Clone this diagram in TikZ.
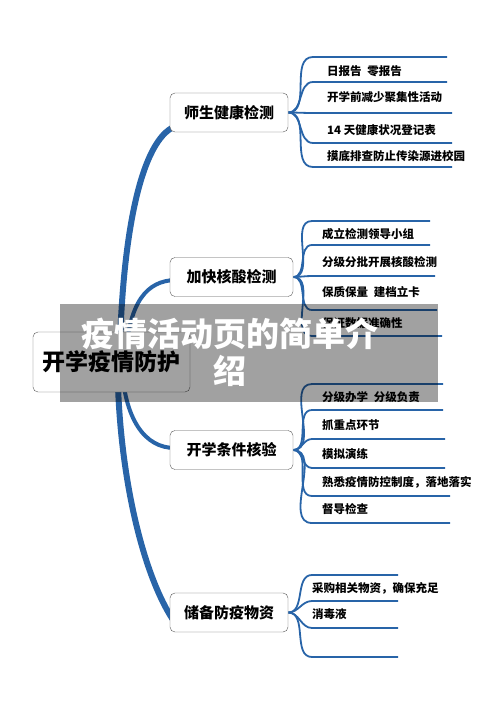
\documentclass[tikz,border=0pt]{standalone}
\usepackage{fontspec}
\setmainfont{Noto Sans CJK SC}
\usetikzlibrary{backgrounds}
\definecolor{mapblue}{RGB}{40,100,168}
\tikzset{
	topic/.style={draw=black!65, fill=white, rounded corners=5pt, inner sep=0pt,
		minimum width=118pt, minimum height=39pt, font=\bfseries\fontsize{15}{15}\selectfont},
	roottopic/.style={topic, minimum width=157pt, minimum height=60pt,
		font=\bfseries\fontsize{23}{23}\selectfont},
	leaf/.style={anchor=west, inner sep=0pt, font=\bfseries\fontsize{11.5}{11.5}\selectfont},
	trunk/.style={draw=mapblue, line width=6pt},
	twig/.style={draw=mapblue, line width=1.8pt},
	band/.style={fill=black, fill opacity=0.37, draw=none, minimum width=378pt, minimum height=98pt},
	bandtext/.style={text=white, align=center, font=\bfseries\fontsize{33}{37}\selectfont},
}
\begin{document}
\begin{tikzpicture}[x=1pt,y=-1pt]
			\useasboundingbox (0,0) rectangle (500,707);
			\node[roottopic] (root) at (111.5,362){开学疫情防护};
			\node[topic] (b1) at (229,112.5){师生健康检测};
			\node[topic, minimum width=123pt] (b2) at (231.5,277){加快核酸检测};
			\node[topic, minimum width=123pt] (b3) at (231.5,450){开学条件核验};
			\node[topic] (b4) at (229,612.5){储备防疫物资};
			\begin{scope}[on background layer]
			\draw[trunk] ([xshift=8pt]root.center) .. controls (122,230) and (142,140) .. ([xshift=5pt,yshift=-14pt]b1.west);
			\draw[trunk, line width=4pt] ([xshift=14pt]root.center) .. controls (128,300) and (148,281) .. ([xshift=5pt,yshift=-3pt]b2.west);
			\draw[trunk, line width=4pt] ([xshift=10pt]root.center) .. controls (124,420) and (145,448) .. ([xshift=5pt,yshift=2pt]b3.west);
			\draw[trunk] ([xshift=6pt]root.center) .. controls (118,470) and (142,575) .. ([xshift=5pt,yshift=-10pt]b4.west);
			\foreach\y/\e [count=\x] in {57/447,82/447,113/452,143/452,167/452}{
				\coordinate (p1\x) at (313,\y);
				\coordinate (q1\x) at (\e,\y);
				\draw[twig] (b1.east) to[out=0,in=180] (p1\x) -- (q1\x);
			}
			\foreach\y/\e [count=\x] in {221/430,245/430,276/435,310/437,336/442}{
				\coordinate (p2\x) at (312,\y);
				\coordinate (q2\x) at (\e,\y);
				\draw[twig] (b2.east) to[out=0,in=180] (p2\x) -- (q2\x);
			}
			\foreach\y/\e [count=\x] in {384/443,410/443,439/445,468/445,496/450,523/450}{
				\coordinate (p3\x) at (312,\y);
				\coordinate (q3\x) at (\e,\y);
				\draw[twig] (b3.east) to[out=0,in=180] (p3\x) -- (q3\x);
			}
			\foreach\y/\e [count=\x] in {575/398,601/398,628/398,657/398}{
				\coordinate (p4\x) at (312,\y);
				\coordinate (q4\x) at (\e,\y);
				\draw[twig] (b4.east) to[out=0,in=180] (p4\x) -- (q4\x);
			}
			\end{scope}
			\foreach\y/\t [count=\x] in {71/日报告\enspace 零报告,97/开学前减少聚集性活动,130/14 天健康状况登记表,156/摸底排查防止传染源进校园}{
				\node[leaf] (t1\x) at (327,\y){\t};
			}
			\foreach\y/\t [count=\x] in {234/成立检测领导小组,262/分级分批开展核酸检测,292/保质保量\enspace 建档立卡,323/保证数据准确性}{
				\node[leaf] (t2\x) at (322,\y){\t};
			}
			\foreach\y/\t [count=\x] in {397/分级办学\enspace 分级负责,425/抓重点环节,454/模拟演练,482/熟悉疫情防控制度，落地落实,509/督导检查}{
				\node[leaf] (t3\x) at (322,\y){\t};
			}
			\foreach\y/\t [count=\x] in {588/采购相关物资，确保充足,614/消毒液}{
				\node[leaf] (t4\x) at (312,\y){\t};
			}
			% overlay title
			\node[band] (band) at (249,353){};
			\node[bandtext] (title) at (230,352){疫情活动页的简单介\\绍};
		\end{tikzpicture}
\end{document}
